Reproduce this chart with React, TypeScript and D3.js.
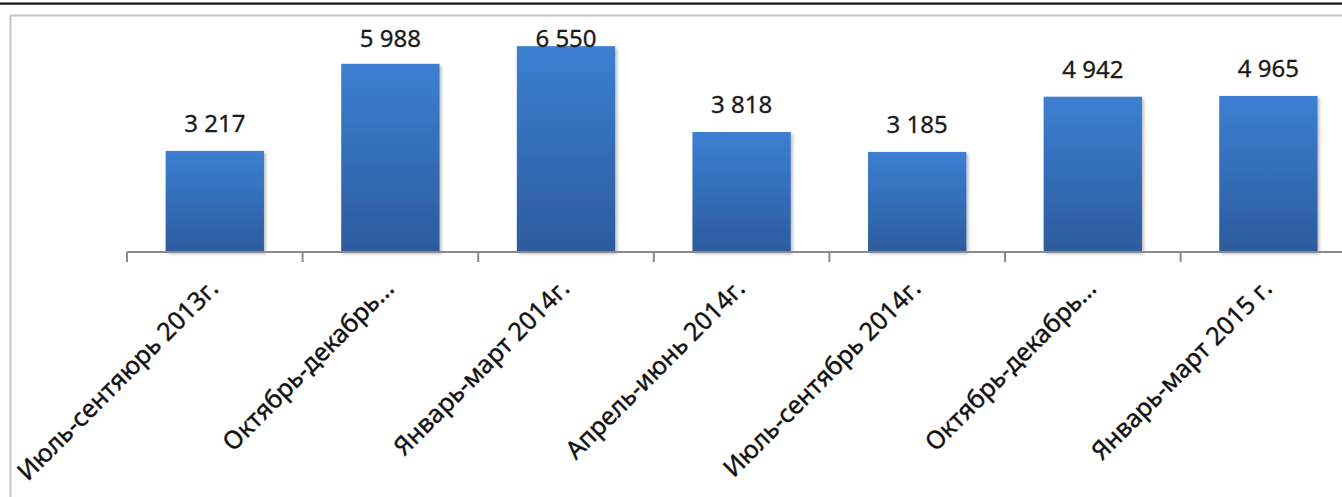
import * as d3 from "d3";

// chart data
const periods = [
  "Июль-сентяюрь 2013г.",
  "Октябрь-декабрь...",
  "Январь-март 2014г.",
  "Апрель-июнь 2014г.",
  "Июль-сентябрь 2014г.",
  "Октябрь-декабрь...",
  "Январь-март 2015 г.",
];
const counts = [3217, 5988, 6550, 3818, 3185, 4942, 4965];

const width = 1342;
const height = 497;

const axisY = 252;
const plotLeft = 127;
const step = 175.6;

const fmt = (v: number) => d3.format(",")(v).replace(/,/g, " ");

export default function App() {
  const keys = periods.map((_, i) => String(i));

  const xScale = d3
    .scaleBand<string>()
    .domain(keys)
    .range([plotLeft, plotLeft + step * periods.length])
    .paddingInner(0.44)
    .paddingOuter(0.22);

  const yScale = d3.scaleLinear().domain([0, 7000]).range([axisY, axisY - 220]);

  const tickXs = d3.range(periods.length + 1).map((i) => plotLeft + i * step);

  return (
    <svg
      width={width}
      height={height}
      viewBox={`0 0 ${width} ${height}`}
      style={{ position: "fixed", left: 0, top: 0, background: "#fff" }}
    >
      <defs>
        <linearGradient id="barFill" x1="0" y1="0" x2="0" y2="1">
          <stop offset="0%" stopColor="#3c7fd2" />
          <stop offset="100%" stopColor="#2c5b9d" />
        </linearGradient>
        <filter id="shadow" x="-10%" y="-10%" width="130%" height="130%">
          <feDropShadow dx="2" dy="2" stdDeviation="1.5" floodColor="#000" floodOpacity="0.25" />
        </filter>
      </defs>

      {/* page rule and frame */}
      <rect x={0} y={2.5} width={width} height={2.2} fill="#111" />
      <path d={`M10.5,${height} V15.5 H${width}`} fill="none" stroke="#c4c4c4" strokeWidth={2} />

      {/* bars */}
      <g filter="url(#shadow)">
        {counts.map((v, i) => (
          <rect
            key={i}
            x={xScale(String(i))}
            y={yScale(v)}
            width={xScale.bandwidth()}
            height={axisY - yScale(v)}
            fill="url(#barFill)"
          />
        ))}
      </g>

      {/* axis */}
      <g stroke="#8a8a8a" strokeWidth={2}>
        <line x1={plotLeft} x2={width} y1={axisY} y2={axisY} />
        {tickXs.map((tx, i) => (
          <line key={i} x1={tx} x2={tx} y1={axisY} y2={axisY + 10} />
        ))}
      </g>

      {/* value labels */}
      <g fontFamily="'Noto Sans', sans-serif" fontSize={24} fill="#1a1a1a" textAnchor="middle"
        stroke="#1a1a1a" strokeWidth={0.3}>
        {counts.map((v, i) => (
          <text
            key={i}
            x={(xScale(String(i)) ?? 0) + xScale.bandwidth() / 2}
            y={Math.max(yScale(v) - 19, 47)}
          >
            {fmt(v)}
          </text>
        ))}
      </g>

      {/* category labels */}
      <g fontFamily="'Noto Sans', sans-serif" fontSize={25} fill="#111" textAnchor="end"
        stroke="#111" strokeWidth={0.4}>
        {periods.map((p, i) => {
          const cx = (xScale(String(i)) ?? 0) + xScale.bandwidth() / 2;
          return (
            <text key={i} transform={`translate(${cx + 5},290) rotate(-45)`}>
              {p}
            </text>
          );
        })}
      </g>
    </svg>
  );
}
